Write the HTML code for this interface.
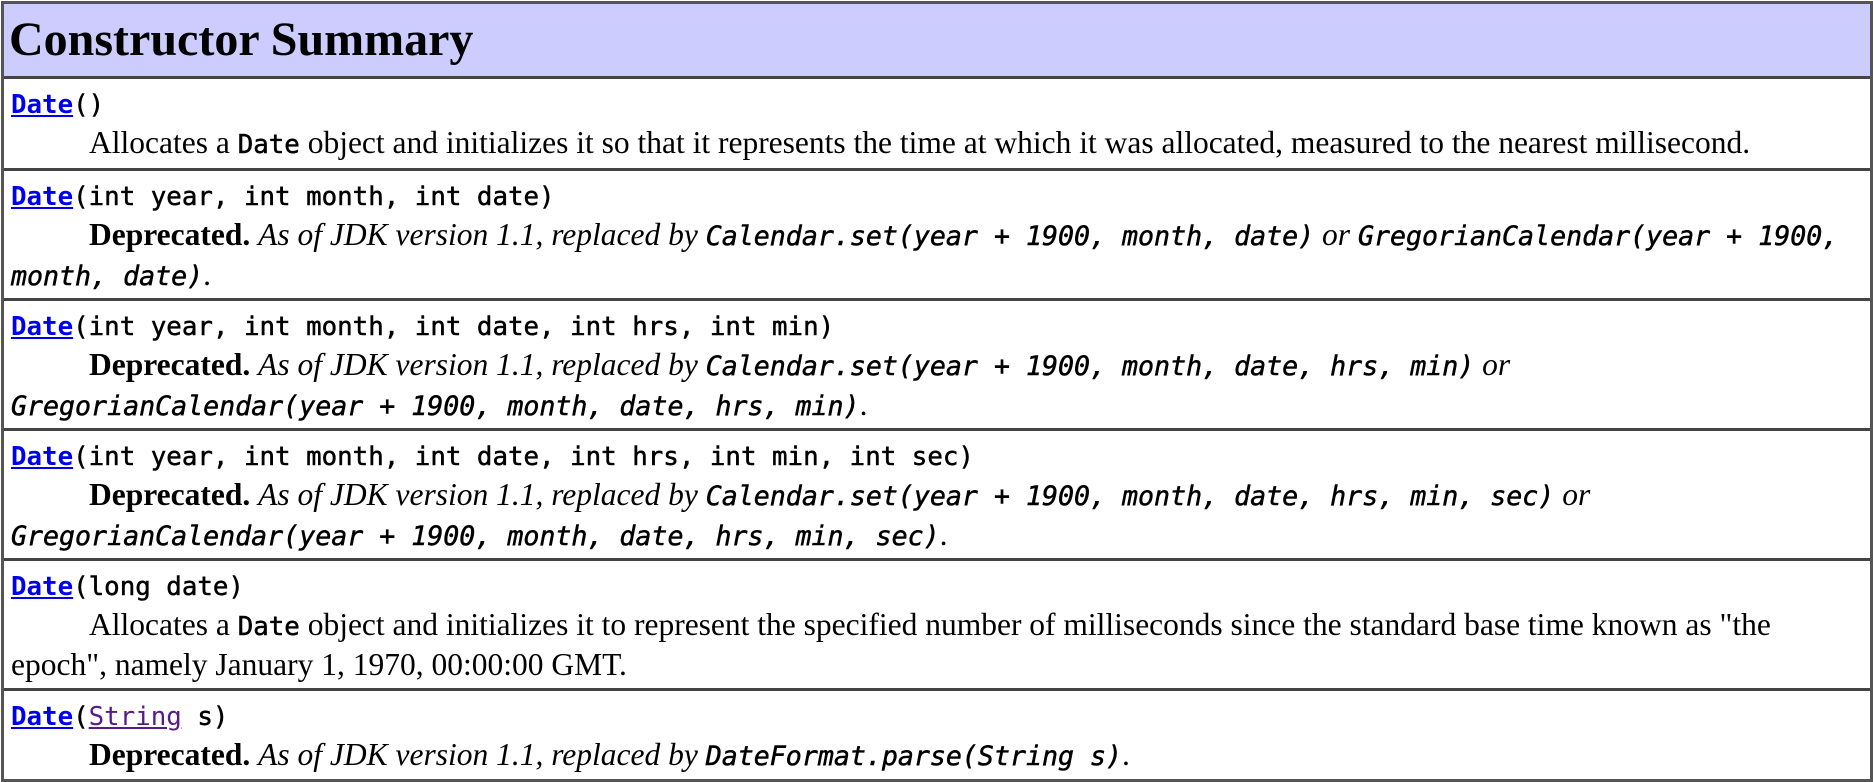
<!DOCTYPE html>
<html><head><meta charset="utf-8"><style>
html,body{margin:0;padding:0;background:#fff;width:1873px;height:781px;overflow:hidden}
.outer{position:absolute;left:1px;top:1px;width:1866px;height:775px;border:3px solid #555;background:#fff}
.cell{position:absolute;left:0;width:1866px;border-top:3px solid #444;box-sizing:border-box;background:#fff}
.hd{background:#ccccff;border-top:none}
.hd div{position:absolute;left:5px;top:8px;font:bold 48px/56px "Liberation Serif",serif;color:#000}
.c{position:absolute;left:7px;top:5px;font:31.5px/38px "Liberation Serif",serif;color:#000;white-space:nowrap}
code{font-family:"DejaVu Sans Mono","Liberation Mono",monospace;font-size:25.8px;-webkit-text-stroke:0.5px #000}
a{color:#0000ee;text-decoration:underline;font-weight:bold;-webkit-text-stroke:0}
a.v{color:#551a8b;font-weight:normal}
i code{font-style:italic;font-size:26.6px}
.ind{display:inline-block;width:78px}
</style></head><body>
<div class="outer">
<div class="cell hd" style="top:0;height:72px"><div>Constructor Summary</div></div>
<div class="cell" style="top:72px;height:94px"><div class="c"><code><a>Date</a>()</code><br><span class="ind"></span>Allocates a <code>Date</code> object and initializes it so that it represents the time at which it was allocated, measured to the nearest millisecond.</div></div>
<div class="cell" style="top:164px;height:132px"><div class="c"><code><a>Date</a>(int year, int month, int date)</code><br><span class="ind"></span><b>Deprecated.</b> <i>As of JDK version 1.1, replaced by <code>Calendar.set(year + 1900, month, date)</code> or <code>GregorianCalendar(year + 1900,</code><br><code>month, date)</code></i>.</div></div>
<div class="cell" style="top:294px;height:132px"><div class="c"><code><a>Date</a>(int year, int month, int date, int hrs, int min)</code><br><span class="ind"></span><b>Deprecated.</b> <i>As of JDK version 1.1, replaced by <code>Calendar.set(year + 1900, month, date, hrs, min)</code> or</i><br><i><code>GregorianCalendar(year + 1900, month, date, hrs, min)</code></i>.</div></div>
<div class="cell" style="top:424px;height:132px"><div class="c"><code><a>Date</a>(int year, int month, int date, int hrs, int min, int sec)</code><br><span class="ind"></span><b>Deprecated.</b> <i>As of JDK version 1.1, replaced by <code>Calendar.set(year + 1900, month, date, hrs, min, sec)</code> or</i><br><i><code>GregorianCalendar(year + 1900, month, date, hrs, min, sec)</code></i>.</div></div>
<div class="cell" style="top:554px;height:132px"><div class="c"><code><a>Date</a>(long date)</code><br><span class="ind"></span>Allocates a <code>Date</code> object and initializes it to represent the specified number of milliseconds since the standard base time known as "the<br>epoch", namely January 1, 1970, 00:00:00 GMT.</div></div>
<div class="cell" style="top:684px;height:91px"><div class="c"><code><a>Date</a>(<a class="v">String</a> s)</code><br><span class="ind"></span><b>Deprecated.</b> <i>As of JDK version 1.1, replaced by <code>DateFormat.parse(String s)</code></i>.</div></div>
</div>
</body></html>
